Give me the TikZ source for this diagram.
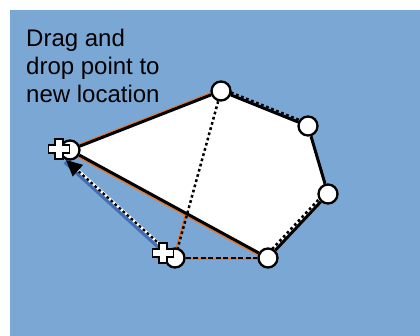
\documentclass[tikz,border=0pt]{standalone}
\usepackage{fontspec}
\setmainfont{Liberation Sans}
\usetikzlibrary{arrows.meta,backgrounds,calc}
\definecolor{bgblue}{RGB}{123,167,212}
\definecolor{shadeblue}{RGB}{65,110,180}
\definecolor{org}{RGB}{226,122,50}
\tikzset{
  vtx/.style={circle, draw=black, fill=white, line width=2.3pt, minimum size=19pt, inner sep=0pt},
  edge/.style={draw=black, line width=3pt},
  orangeedge/.style={draw=org, line width=2.6pt},
  dots/.style={draw=black, line width=2.5pt, dash pattern=on 2.7pt off 2.7pt},
  crossmark/.style={fill=white, draw=black, line width=1.8pt, line join=miter},
}
\newcommand{\plusmark}[1]{%
  \path[crossmark, shift={(#1)}] (-10.5,-4) -- (-4,-4) -- (-4,-10) -- (4,-10) -- (4,-4) -- (10.5,-4)
    -- (10.5,4) -- (4,4) -- (4,10) -- (-4,10) -- (-4,4) -- (-10.5,4) -- cycle;}
\begin{document}
\begin{tikzpicture}[x=1pt,y=-1pt]
\useasboundingbox (0,0) rectangle (420,336);
% vertices
\node[vtx] (A) at (70,150) {};
\node[vtx] (B) at (221,91) {};
\node[vtx] (C) at (308,126) {};
\node[vtx] (D) at (328,194) {};
\node[vtx] (E) at (268,258) {};
\node[vtx] (F) at (175,258) {};
\node[anchor=north west, align=left, inner sep=0pt,
      font=\fontsize{24}{28}\selectfont] (T) at (26,29) {Drag and\\drop point to\\new location};
\begin{scope}[on background layer]
  \fill[bgblue] (10,10) rectangle (420,336);
  \fill[white] (A.center) -- (B.center) -- (C.center) -- (D.center) -- (E.center) -- cycle;
  % orange highlights
  \draw[orangeedge] ($(A.center)+(0,-1.5)$) -- ($(B.center)+(0,-1.5)$);
  \draw[orangeedge] ($(A.center)+(0,1.9)$) -- ($(E.center)+(0,1.9)$);
  \draw[org, line width=2pt] ($(F.center)+(0,1)$) -- ($(E.center)+(0,1)$);
  \draw[org, line width=2.2pt] ($(F.center)+(-1.2,0)$) -- ($(F.center)!0.25!(B.center)+(-1.2,0)$);
  % solid polygon edges
  \draw[edge] (A) -- (B);
  \draw[edge] (B) -- (C);
  \draw[edge] (C) -- (D);
  \draw[edge] (D) -- (E);
  \draw[edge] (E) -- (A);
  % dotted old edges
  \draw[dots] ($(B.center)+(0,-2.5)$) -- ($(C.center)+(0,-2.5)$);
  \draw[dots] ($(D.center)+(-2.3,-2)$) -- ($(E.center)+(-2.3,-2)$);
  \draw[dots] (B) -- (F);
  \draw[dots, dash pattern=on 5pt off 2.5pt] (F) -- (E);
  % drag path
  \draw[shadeblue, line width=4pt] ($(F.center)+(-12,-7)$) -- ($(A.center)+(-5,12)$);
  \draw[white, line width=2.8pt] ($(F.center)+(-10,-9)$) -- ($(A.center)+(0,13)$);
  \draw[black, line width=2.3pt, dash pattern=on 2.7pt off 2.7pt, -{Triangle[length=16pt,width=15pt]}]
    ($(F.center)+(-10,-9)$) -- ($(A.center)+(-4,10)$);
\end{scope}
\plusmark{59,149}
\plusmark{163,253}
\end{tikzpicture}
\end{document}
